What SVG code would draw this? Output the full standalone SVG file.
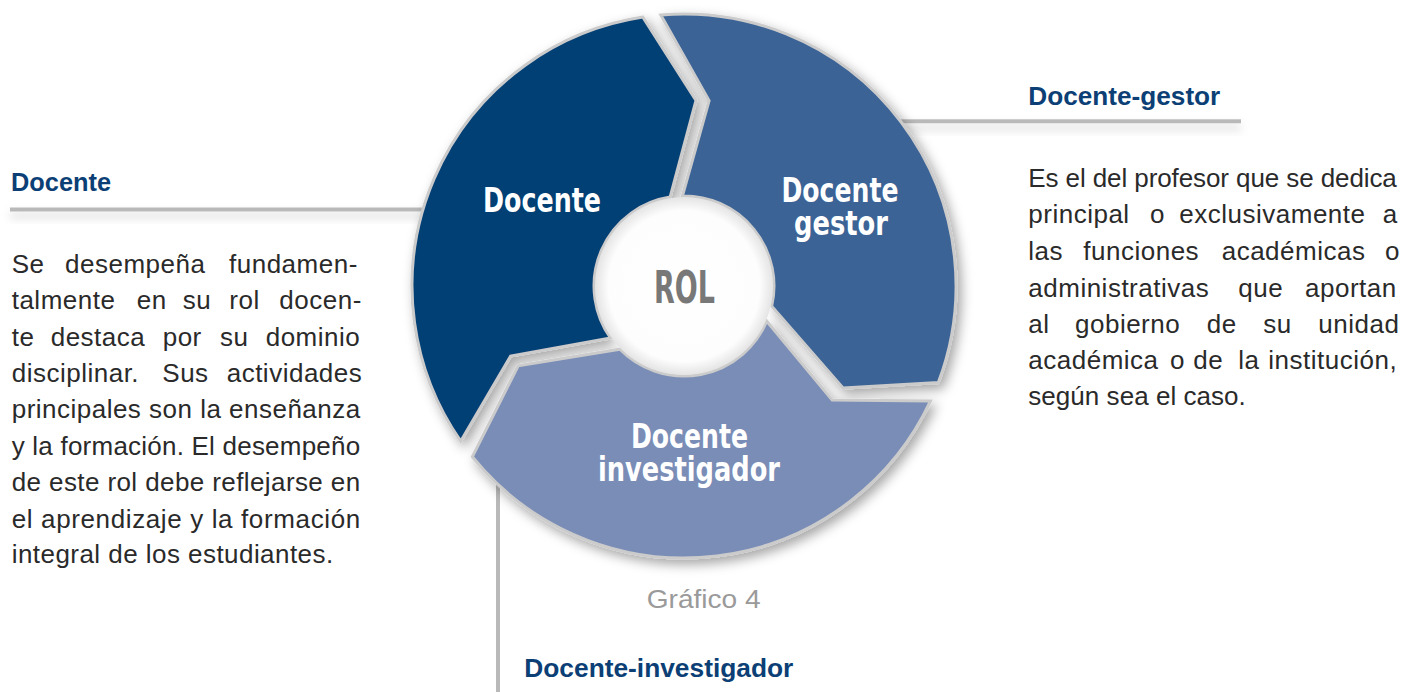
<svg xmlns="http://www.w3.org/2000/svg" width="1403" height="692" viewBox="0 0 1403 692">
<style>
.head{font-family:"Liberation Sans",Arial,sans-serif;font-weight:bold;font-size:25px;fill:#0b3f75}
.body{font-family:"Liberation Sans",Arial,sans-serif;font-size:26px;fill:#2a2a2a;letter-spacing:0.5px}
.seg{font-family:"Liberation Sans Narrow","DejaVu Sans Condensed","Liberation Sans",sans-serif;font-weight:bold;font-size:34px;fill:#ffffff;text-anchor:middle}
.rol{font-family:"Liberation Sans Narrow","DejaVu Sans Condensed","Liberation Sans",sans-serif;font-weight:bold;font-size:45px;fill:#787878;text-anchor:middle}
.cap{font-family:"Liberation Sans",Arial,sans-serif;font-size:25px;fill:#9a9a9a}
.ring{stroke:#cbcbcb;stroke-width:3;stroke-linejoin:miter}
.bar{fill:#b9b9b9}
</style>
<defs>
<filter id="sh" x="-20%" y="-20%" width="140%" height="140%">
<feDropShadow dx="4" dy="5" stdDeviation="6" flood-color="#000" flood-opacity="0.35"/>
</filter>
<filter id="lsh" x="-5%" y="-200%" width="110%" height="600%">
<feDropShadow dx="0" dy="6" stdDeviation="5" flood-color="#000" flood-opacity="0.18"/>
</filter>
<radialGradient id="hole" cx="0.5" cy="0.5" r="0.5">
<stop offset="0" stop-color="#ffffff"/>
<stop offset="0.85" stop-color="#fdfdfd"/>
<stop offset="1" stop-color="#e4e4e4"/>
</radialGradient>
</defs>
<rect width="1403" height="692" fill="#ffffff"/>

<g id="connectors">
<rect class="bar" x="10" y="207.5" width="440" height="4" filter="url(#lsh)"/>
<rect class="bar" x="880" y="119.3" width="361" height="4" filter="url(#lsh)"/>
<rect class="bar" x="496" y="460" width="4" height="232"/>
</g>

<g id="ring" filter="url(#sh)">
<g id="node-docente">
<path class="ring" fill="#053f75" d="M460.7,441.2 A272,272 0 0 1 642.9,17.1 L696,100.4 L670.1,197.1 A90,90 0 0 0 610.5,337.9 L510.6,356 Z"/>
</g>
<g id="node-gestor">
<path class="ring" fill="#3b6396" d="M660.8,15 A272,272 0 0 1 938.3,382.6 L843,388.1 L771.7,306.2 A90,90 0 0 0 682.4,196 L709.1,100.7 Z"/>
</g>
<g id="node-investigador">
<path class="ring" fill="#798db7" d="M930.5,401 A272,272 0 0 1 472.3,456.8 L518.2,365.8 L619.9,349.2 A90,90 0 0 0 766.8,321.2 L832.2,400.1 Z"/>
</g>
</g>
<g id="node-rol">
<circle cx="684" cy="286" r="89" fill="url(#hole)"/>
<text class="rol" x="684.5" y="302.7" textLength="61" lengthAdjust="spacingAndGlyphs">ROL</text>
</g>

<g id="labels-ring">
<text class="seg" x="542" y="212" textLength="118" lengthAdjust="spacingAndGlyphs">Docente</text>
<text class="seg" x="840" y="202" textLength="117" lengthAdjust="spacingAndGlyphs">Docente</text>
<text class="seg" x="841" y="235" textLength="94" lengthAdjust="spacingAndGlyphs">gestor</text>
<text class="seg" x="689.5" y="448" textLength="117" lengthAdjust="spacingAndGlyphs">Docente</text>
<text class="seg" x="689" y="481" textLength="182" lengthAdjust="spacingAndGlyphs">investigador</text>
</g>

<g id="text-docente">
<text class="head" x="11" y="190.7" textLength="100" lengthAdjust="spacingAndGlyphs">Docente</text>
<text class="body" y="272.7"><tspan x="11.7">Se</tspan><tspan x="65">desempeña</tspan><tspan x="229">fundamen-</tspan></text>
<text class="body" y="309"><tspan x="11.7">talmente</tspan><tspan x="136.7">en</tspan><tspan x="182.7">su</tspan><tspan x="229.3">rol</tspan><tspan x="279.3">docen-</tspan></text>
<text class="body" y="345.7"><tspan x="11.7">te</tspan><tspan x="50.7">destaca</tspan><tspan x="162.7">por</tspan><tspan x="220">su</tspan><tspan x="265.7">dominio</tspan></text>
<text class="body" y="381.7"><tspan x="11.7">disciplinar.</tspan><tspan x="162.3">Sus</tspan><tspan x="226.7">actividades</tspan></text>
<text class="body" x="11.7" y="418.3" textLength="349" lengthAdjust="spacing">principales son la enseñanza</text>
<text class="body" x="11.7" y="454.7" textLength="349" lengthAdjust="spacing">y la formación. El desempeño</text>
<text class="body" x="11.7" y="491" textLength="349" lengthAdjust="spacing">de este rol debe reflejarse en</text>
<text class="body" x="11.7" y="527.7" textLength="349" lengthAdjust="spacing">el aprendizaje y la formación</text>
<text class="body" x="11.7" y="563.3" textLength="322" lengthAdjust="spacing">integral de los estudiantes.</text>
</g>

<g id="text-gestor">
<text class="head" x="1028.3" y="105" textLength="192" lengthAdjust="spacingAndGlyphs">Docente-gestor</text>
<text class="body" x="1028.3" y="186.7" textLength="369" lengthAdjust="spacing">Es el del profesor que se dedica</text>
<text class="body" y="223.3"><tspan x="1028.3">principal</tspan><tspan x="1150">o</tspan><tspan x="1179.3">exclusivamente</tspan><tspan x="1382.7">a</tspan></text>
<text class="body" y="260"><tspan x="1028.3">las</tspan><tspan x="1083.3">funciones</tspan><tspan x="1221.7">académicas</tspan><tspan x="1385">o</tspan></text>
<text class="body" y="296.7"><tspan x="1028.3">administrativas</tspan><tspan x="1238.3">que</tspan><tspan x="1305">aportan</tspan></text>
<text class="body" y="333.3"><tspan x="1028.3">al</tspan><tspan x="1075">gobierno</tspan><tspan x="1206.7">de</tspan><tspan x="1263.3">su</tspan><tspan x="1318.3">unidad</tspan></text>
<text class="body" y="369"><tspan x="1028.3">académica</tspan><tspan x="1170">o</tspan><tspan x="1193.3">de</tspan><tspan x="1238.3">la</tspan><tspan x="1268.3">institución,</tspan></text>
<text class="body" x="1028.3" y="405" textLength="218" lengthAdjust="spacing">según sea el caso.</text>
</g>

<g id="text-investigador">
<text class="cap" x="646.7" y="608.3" textLength="114" lengthAdjust="spacingAndGlyphs">Gráfico 4</text>
<text class="head" x="524.3" y="677" textLength="269" lengthAdjust="spacingAndGlyphs">Docente-investigador</text>
</g>
</svg>
